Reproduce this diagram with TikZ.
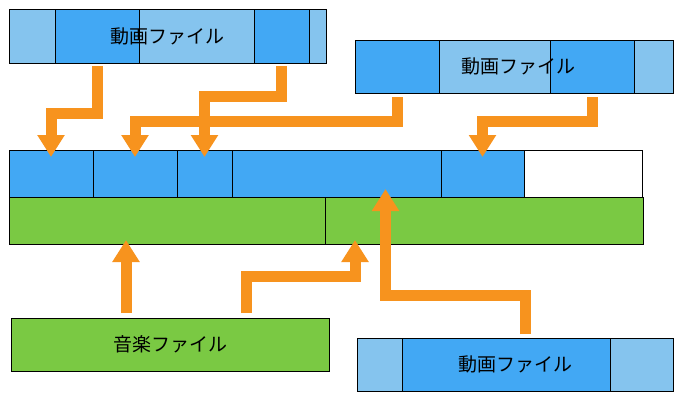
\documentclass[tikz,border=0pt]{standalone}
\usepackage{fontspec}
\newfontfamily\jpfont{Noto Sans CJK JP}
\usetikzlibrary{arrows.meta}
\definecolor{videolight}{HTML}{85C4EE}
\definecolor{videodark}{HTML}{42A8F4}
\definecolor{audiogreen}{HTML}{7AC943}
\definecolor{flow}{HTML}{F7931E}
\tikzstyle{seg}=[draw=black,line width=1pt,inner sep=0pt,outer sep=0pt,anchor=north west,minimum height=53pt]
\tikzstyle{lightseg}=[seg,fill=videolight]
\tikzstyle{darkseg}=[seg,fill=videodark]
\tikzstyle{audioseg}=[seg,fill=audiogreen]
\tikzstyle{freeseg}=[seg,fill=white]
\tikzstyle{frame}=[seg,font=\jpfont\fontsize{19}{23}\selectfont]
\tikzstyle{flowarrow}=[draw=flow,line width=11pt,-{Triangle[width=26pt,length=22pt]}]

\begin{document}
\begin{tikzpicture}[x=1pt,y=1pt]
    \useasboundingbox (0,0) rectangle (700,400);
    % video file, top left
    \node[lightseg,minimum width=46pt] (v1a) at (9,390) {};
    \node[darkseg,minimum width=84pt] (v1b) at (v1a.north east) {};
    \node[lightseg,minimum width=115pt] (v1c) at (v1b.north east) {};
    \node[darkseg,minimum width=55pt] (v1d) at (v1c.north east) {};
    \node[lightseg,minimum width=17pt] (v1e) at (v1d.north east) {};
    \node[frame,minimum width=317pt] (v1) at (9,390) {動画ファイル};
    % video file, top right
    \node[darkseg,minimum width=84pt] (v2a) at (355,360) {};
    \node[lightseg,minimum width=111pt] (v2b) at (v2a.north east) {};
    \node[darkseg,minimum width=84pt] (v2c) at (v2b.north east) {};
    \node[lightseg,minimum width=39pt] (v2d) at (v2c.north east) {};
    \node[frame,minimum width=318pt] (v2) at (355,360) {\hspace*{8pt}動画ファイル};
    % merged stream
    \node[darkseg,minimum width=84pt,minimum height=47pt] (m1) at (9,250) {};
    \node[darkseg,minimum width=84pt,minimum height=47pt] (m2) at (m1.north east) {};
    \node[darkseg,minimum width=55pt,minimum height=47pt] (m3) at (m2.north east) {};
    \node[darkseg,minimum width=209pt,minimum height=47pt] (m4) at (m3.north east) {};
    \node[darkseg,minimum width=83pt,minimum height=47pt] (m5) at (m4.north east) {};
    \node[freeseg,minimum width=118pt,minimum height=47pt] (m6) at (m5.north east) {};
    \node[audioseg,minimum width=316pt,minimum height=47pt] (g1) at (9,203) {};
    \node[audioseg,minimum width=318pt,minimum height=47pt] (g2) at (g1.north east) {};
    % music file
    \node[audioseg,frame,minimum width=318pt] (music) at (11,82) {音楽ファイル};
    % video file, bottom
    \node[lightseg,minimum width=45pt] (v3a) at (357,62) {};
    \node[darkseg,minimum width=208pt] (v3b) at (v3a.north east) {};
    \node[lightseg,minimum width=63pt] (v3c) at (v3b.north east) {};
    \node[frame,minimum width=316pt] (v3) at (357,62) {動画ファイル};
    % flows
    \draw[flowarrow] ([yshift=-3pt]v1b.south) -- ++(0,-47) -| ([yshift=-7pt]m1.north);
    \draw[flowarrow] ([yshift=-3pt]v1d.south) -- ++(0,-30.5) -| ([yshift=-7pt]m3.north);
    \draw[flowarrow] ([yshift=-4pt]v2a.south) -- ++(0,-24.5) -| ([yshift=-7pt]m2.north);
    \draw[flowarrow] ([yshift=-4pt]v2c.south) -- ++(0,-24.5) -| ([yshift=-7pt]m5.north);
    \draw[flowarrow] ([shift={(-44pt,5pt)}]music.north) -- ++(0,73);
    \draw[flowarrow] ([shift={(76pt,5pt)}]music.north) -- ++(0,36.5) -- ++(109,0) -- ++(0,36.5);
    \draw[flowarrow] ([shift={(10.5pt,4pt)}]v3.north) -- ++(0,38.5) -- ++(-140,0) -- ++(0,106.5);
\end{tikzpicture}
\end{document}
